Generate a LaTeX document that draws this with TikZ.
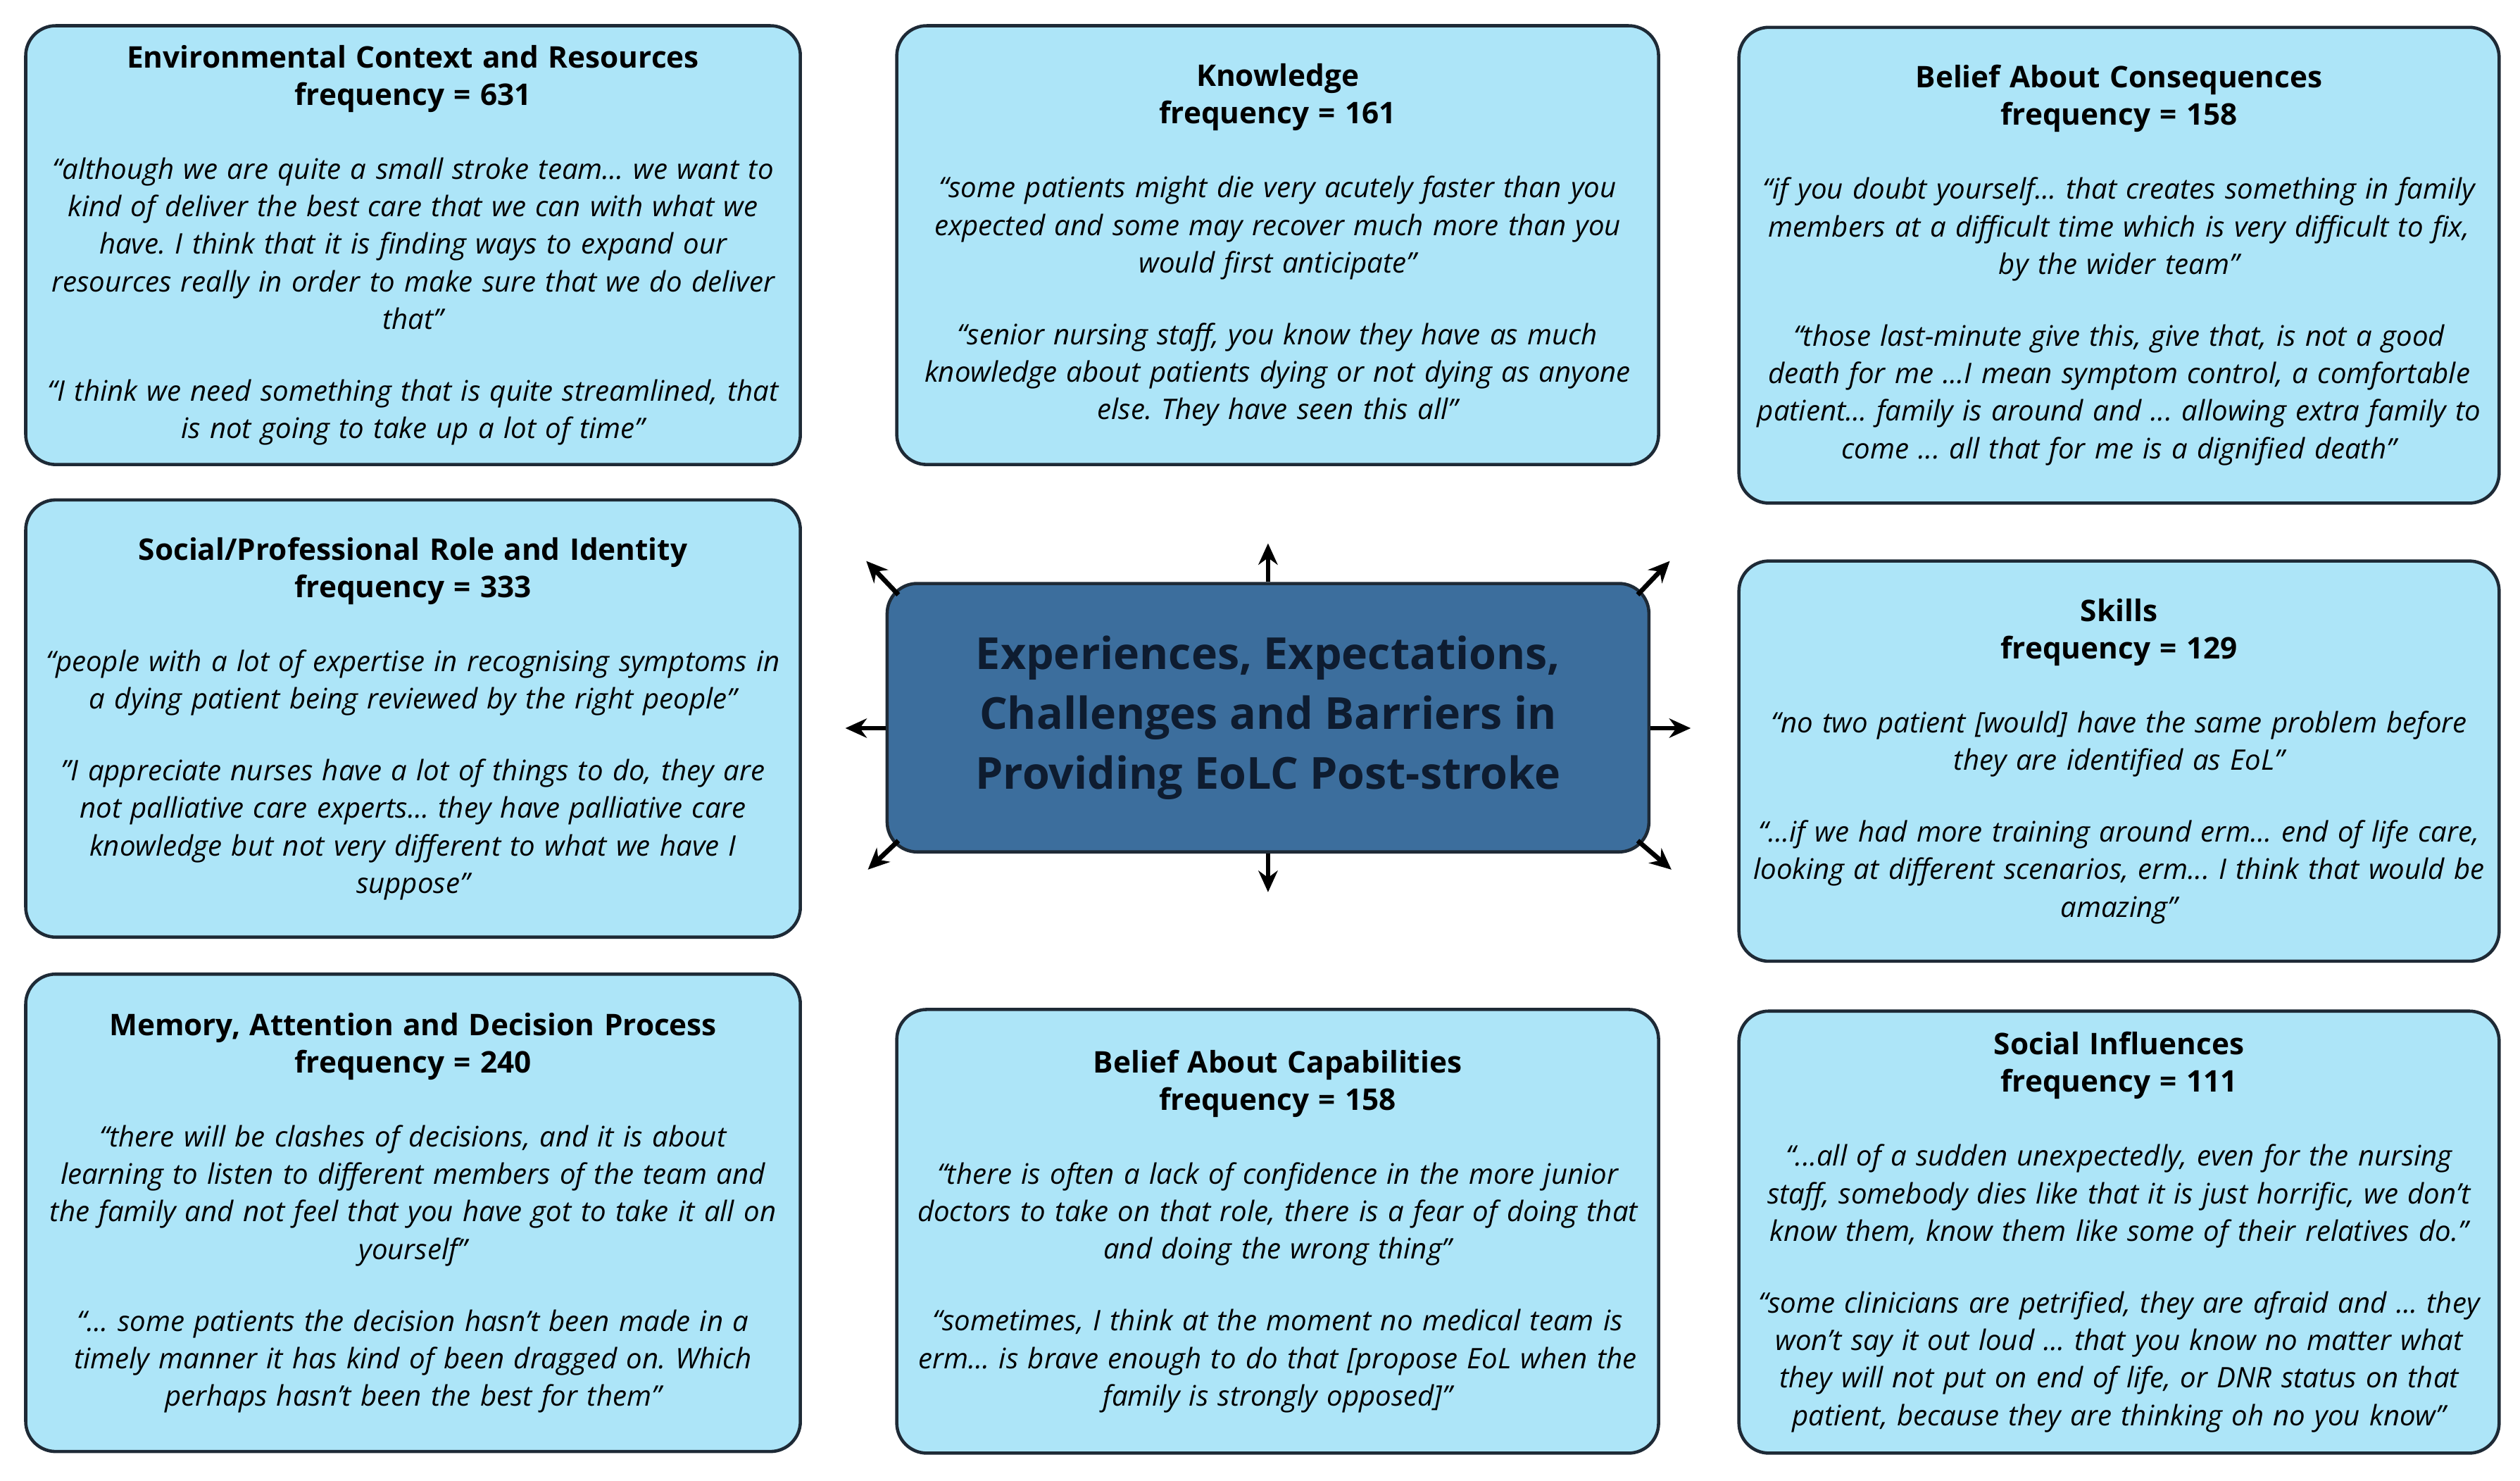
\documentclass[tikz,border=0pt]{standalone}
\usepackage{fontspec}
\setmainfont{Open Sans}
\usetikzlibrary{arrows.meta}
\frenchspacing
\definecolor{boxfill}{HTML}{ADE5F8}
\definecolor{boxline}{HTML}{1E2A36}
\definecolor{cfill}{HTML}{3C6E9D}
\definecolor{ctext}{HTML}{0E1C30}
\tikzset{
 box/.style={draw=boxline,line width=1.5pt,fill=boxfill,rounded corners=14pt,anchor=north west,align=center,inner sep=2pt,font=\fontsize{13.2}{17.5}\selectfont\itshape},
 arr/.style={-{Stealth[length=10pt,width=9pt]},line width=2.2pt,draw=black}
}
\newcommand{\hd}[2]{{\upshape\bfseries\fontsize{13.9}{20}\selectfont #1\\ frequency = #2}\\[17pt]}
\newcommand{\gp}{\\[16pt]}
\begin{document}
\begin{tikzpicture}[x=0.75pt,y=-0.75pt]
\useasboundingbox (0,0) rectangle (1568,921);
% left column
\node[box,minimum width=482*0.75pt,minimum height=273*0.75pt,text width=476*0.75pt] (env) at (15,15) {\hd{Environmental Context and Resources}{631}“although we are quite a small stroke team... we want to\\ kind of deliver the best care that we can with what we\\ have. I think that it is finding ways to expand our\\ resources really in order to make sure that we do deliver\\ that”\gp “I think we need something that is quite streamlined, that\\ is not going to take up a lot of time”};
\node[box,minimum width=482*0.75pt,minimum height=272*0.75pt,text width=476*0.75pt] (soc) at (15,310) {\hd{Social/Professional Role and Identity}{333}“people with a lot of expertise in recognising symptoms in\\ a dying patient being reviewed by the right people”\gp ”I appreciate nurses have a lot of things to do, they are\\ not palliative care experts... they have palliative care\\ knowledge but not very different to what we have I\\ suppose”};
\node[box,minimum width=482*0.75pt,minimum height=297*0.75pt,text width=476*0.75pt] (mem) at (15,605) {\hd{Memory, Attention and Decision Process}{240}“there will be clashes of decisions, and it is about\\ learning to listen to different members of the team and\\ the family and not feel that you have got to take it all on\\ yourself”\gp “... some patients the decision hasn’t been made in a\\ timely manner it has kind of been dragged on. Which\\ perhaps hasn’t been the best for them”};
% middle column
\node[box,minimum width=474*0.75pt,minimum height=273*0.75pt,text width=468*0.75pt] (kno) at (557,15) {\hd{Knowledge}{161}“some patients might die very acutely faster than you\\ expected and some may recover much more than you\\ would first anticipate”\gp “senior nursing staff, you know they have as much\\ knowledge about patients dying or not dying as anyone\\ else. They have seen this all”};
\node[box,minimum width=474*0.75pt,minimum height=276*0.75pt,text width=468*0.75pt] (cap) at (557,627) {\hd{Belief About Capabilities}{158}“there is often a lack of confidence in the more junior\\ doctors to take on that role, there is a fear of doing that\\ and doing the wrong thing”\gp “sometimes, I think at the moment no medical team is\\ erm... is brave enough to do that [propose EoL when the\\ family is strongly opposed]”};
% right column
\node[box,minimum width=473*0.75pt,minimum height=296*0.75pt,text width=467*0.75pt] (con) at (1081,16) {\hd{Belief About Consequences}{158}“if you doubt yourself... that creates something in family\\ members at a difficult time which is very difficult to fix,\\ by the wider team”\gp “those last-minute give this, give that, is not a good\\ death for me ...I mean symptom control, a comfortable\\ patient... family is around and ... allowing extra family to\\ come ... all that for me is a dignified death”};
\node[box,minimum width=473*0.75pt,minimum height=249*0.75pt,text width=467*0.75pt] (ski) at (1081,348) {\hd{Skills}{129}“no two patient [would] have the same problem before\\ they are identified as EoL”\gp “...if we had more training around erm... end of life care,\\ looking at different scenarios, erm... I think that would be\\ amazing”};
\node[box,minimum width=473*0.75pt,minimum height=275*0.75pt,text width=467*0.75pt] (inf) at (1081,628) {\hd{Social Influences}{111}“...all of a sudden unexpectedly, even for the nursing\\ staff, somebody dies like that it is just horrific, we don’t\\ know them, know them like some of their relatives do.”\gp “some clinicians are petrified, they are afraid and ... they\\ won’t say it out loud ... that you know no matter what\\ they will not put on end of life, or DNR status on that\\ patient, because they are thinking oh no you know”};
% centre
\node[draw=boxline,line width=1.5pt,fill=cfill,rounded corners=14pt,minimum width=474*0.75pt,minimum height=167*0.75pt,align=center,text=ctext,font=\fontsize{20.6}{28}\selectfont\bfseries] (ctr) at (789,446.5) {Experiences, Expectations,\\ Challenges and Barriers in\\ Providing EoLC Post-stroke};
\coordinate (aN) at (789,338); \coordinate (aS) at (789,555);
\coordinate (aW) at (526,453); \coordinate (aE) at (1052,453);
\coordinate (aNW) at (539,349); \coordinate (aNE) at (1039,349);
\coordinate (aSW) at (540,541); \coordinate (aSE) at (1040,541);
\draw[arr] (ctr.north) -- (aN);
\draw[arr] (ctr.south) -- (aS);
\draw[arr] (ctr.west|-aW) -- (aW);
\draw[arr] (ctr.east|-aE) -- (aE);
\draw[arr] ([shift={(8,8)}]ctr.north west) -- (aNW);
\draw[arr] ([shift={(-8,8)}]ctr.north east) -- (aNE);
\draw[arr] ([shift={(8,-8)}]ctr.south west) -- (aSW);
\draw[arr] ([shift={(-8,-8)}]ctr.south east) -- (aSE);
\end{tikzpicture}
\end{document}
